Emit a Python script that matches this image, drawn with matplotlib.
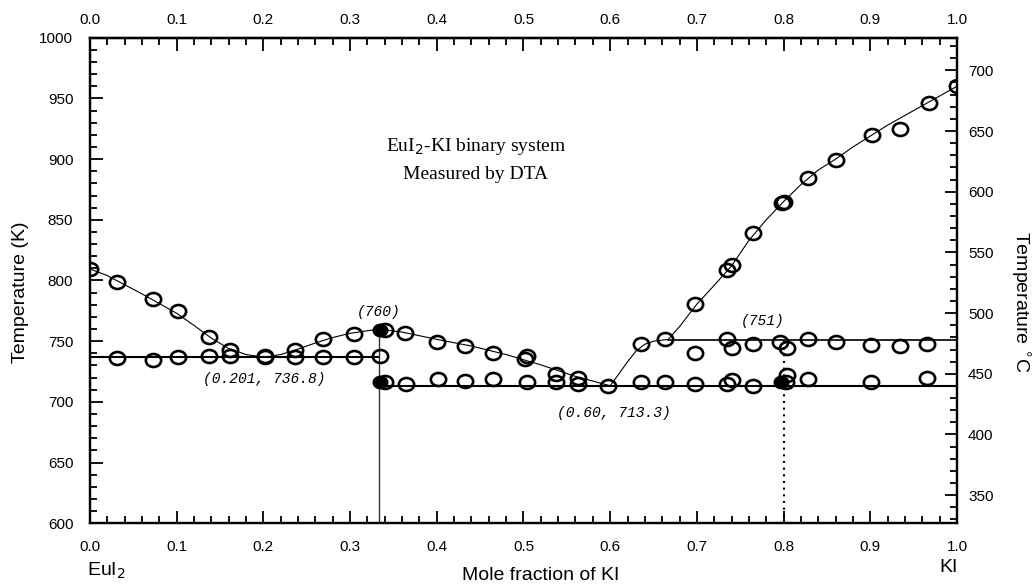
import numpy as np
import matplotlib
matplotlib.use("Agg")
import matplotlib.pyplot as plt
from matplotlib.path import Path
from matplotlib.transforms import Affine2D

plt.rcParams['font.family'] = ['Liberation Sans', 'DejaVu Sans']

# measured DTA points (mole fraction KI, temperature K)
liq_x = [0.0, 0.031, 0.073, 0.102, 0.137, 0.162, 0.202, 0.237, 0.269, 0.304,
         0.363, 0.400, 0.433, 0.465, 0.502, 0.504, 0.537, 0.563, 0.598,
         0.635, 0.663, 0.698, 0.735, 0.741, 0.765, 0.798, 0.800, 0.828,
         0.861, 0.902, 0.934, 0.968, 1.0]
liq_T = [809.5, 798.5, 784.5, 774.5, 753.5, 742.5, 737.5, 742.5, 752.0, 756.0,
         756.5, 749.0, 746.0, 740.5, 735.5, 737.5, 723.0, 719.5, 713.0,
         748.0, 751.5, 780.5, 809.0, 812.5, 839.5, 864.0, 865.0, 884.5,
         899.5, 919.5, 925.0, 946.0, 960.0]

eut1_x = [0.031, 0.073, 0.102, 0.137, 0.162, 0.202, 0.237, 0.269, 0.304, 0.335]
eut1_T = [736.0, 734.5, 737.0, 737.5, 737.5, 737.0, 737.0, 737.0, 737.0, 738.0]

eut2_x = [0.365, 0.402, 0.433, 0.465, 0.504, 0.537, 0.563, 0.635, 0.663,
          0.698, 0.735, 0.741, 0.765, 0.804, 0.828, 0.901, 0.966]
eut2_T = [715.0, 719.0, 717.0, 718.5, 716.5, 716.0, 715.0, 716.0, 716.0,
          714.5, 715.0, 718.0, 713.0, 722.5, 719.0, 716.0, 720.0]

per_x = [0.698, 0.735, 0.741, 0.765, 0.796, 0.804, 0.828, 0.861, 0.901, 0.934, 0.966]
per_T = [740.0, 751.5, 744.0, 748.0, 749.5, 744.0, 751.5, 749.5, 747.0, 746.0, 748.0]

# darker (overlapping) points
dark_x = [0.334, 0.334, 0.797]
dark_T = [759.0, 716.5, 716.5]

# fitted liquidus curves
c1_x = [0.0, 0.02, 0.04, 0.06, 0.08, 0.10, 0.12, 0.14, 0.16, 0.18, 0.201]
c1_T = [809.5, 804.0, 796.5, 789.0, 781.0, 773.0, 763.0, 752.5, 744.0, 739.0, 736.8]
c2_x = [0.201, 0.22, 0.24, 0.26, 0.28, 0.30, 0.3333]
c2_T = [736.8, 739.0, 743.5, 748.5, 753.0, 756.5, 760.0]
c3_x = [0.3333, 0.36, 0.40, 0.44, 0.48, 0.52, 0.56, 0.60]
c3_T = [760.0, 757.5, 751.5, 746.0, 739.0, 730.5, 721.0, 713.3]
c4_x = [0.60, 0.61, 0.62, 0.63, 0.64, 0.65, 0.667, 0.68, 0.70, 0.72, 0.74, 0.76,
        0.78, 0.80, 0.82, 0.84, 0.86, 0.88, 0.90, 0.92, 0.94, 0.96, 0.98, 1.0]
c4_T = [713.3, 723.0, 733.0, 742.0, 747.5, 750.0, 751.5, 762.0, 780.5, 796.0, 812.0, 833.0,
        850.0, 865.0, 879.0, 891.0, 900.0, 910.0, 919.0, 928.0, 936.0, 944.0, 952.0, 960.0]

# invariant lines
eutectic1 = (0.201, 736.8)
eutectic2 = (0.60, 713.3)
compound_x = 1 / 3
compound_T = 760.0
peritectic_x = 0.8
peritectic_T = 751.0

fig = plt.figure(figsize=(10.34, 5.84), dpi=100)
ax = fig.add_axes([0.087, 0.104, 0.8385, 0.8314])

ellipse = Path.unit_circle().transformed(Affine2D().scale(1.0, 0.85))
mk = dict(marker=ellipse, ms=11, mfc='none', mec='black', mew=1.9, ls='none', zorder=4)

# curves
for cx, cT in [(c1_x, c1_T), (c2_x, c2_T), (c3_x, c3_T), (c4_x, c4_T)]:
    ax.plot(cx, cT, color='black', lw=0.8, zorder=2)

ax.plot([0, compound_x], [eutectic1[1]] * 2, color='black', lw=1.5, zorder=2)
ax.plot([compound_x, 1.0], [eutectic2[1]] * 2, color='black', lw=1.5, zorder=2)
ax.plot([0.667, 1.0], [peritectic_T] * 2, color='black', lw=1.2, zorder=2)
ax.plot([compound_x, compound_x], [600, compound_T], color='#333333', lw=1.0, zorder=2)
ax.plot([peritectic_x, peritectic_x], [600, peritectic_T], color='black', lw=1.5,
        ls=(0, (1, 2.2)), zorder=2)

ax.plot(liq_x, liq_T, **mk)
ax.plot(eut1_x, eut1_T, **mk)
ax.plot(eut2_x, eut2_T, **mk)
ax.plot(per_x, per_T, **mk)
ax.plot(dark_x, dark_T, marker=ellipse, ms=10, mfc='black', mec='black', mew=1.5,
        ls='none', zorder=5)
ax.plot([x + 0.006 for x in dark_x], dark_T, **mk)

ax.set_xlim(0, 1)
ax.set_ylim(600, 1000)
ax.set_xticks(np.arange(0, 1.01, 0.1))
ax.set_xticks(np.arange(0, 1.001, 0.02), minor=True)
ax.set_yticks(np.arange(600, 1001, 50))
ax.set_yticks(np.arange(600, 1001, 10), minor=True)
ax.xaxis.set_major_formatter(plt.FormatStrFormatter('%.1f'))
ax.tick_params(which='both', direction='in', labelsize=11, width=1.3)
ax.tick_params(which='major', length=9)
ax.tick_params(which='minor', length=5)
ax.tick_params(axis='x', which='major', pad=12)
ax.tick_params(axis='y', which='major', pad=12)
for s in ax.spines.values():
    s.set_linewidth(1.6)

top = ax.secondary_xaxis('top')
top.set_xticks(np.arange(0, 1.01, 0.1))
top.set_xticks(np.arange(0, 1.001, 0.02), minor=True)
top.xaxis.set_major_formatter(plt.FormatStrFormatter('%.1f'))
top.tick_params(which='both', direction='in', labelsize=11, width=1.3)
top.tick_params(which='major', length=9, pad=8)
top.tick_params(which='minor', length=5)
top.spines['top'].set_linewidth(1.6)

ax2 = ax.twinx()
ax2.set_ylim(600 - 273.15, 1000 - 273.15)
ax2.set_yticks(np.arange(350, 701, 50))
ax2.set_yticks(np.arange(330, 721, 10), minor=True)
ax2.tick_params(which='both', direction='in', labelsize=11, width=1.3)
ax2.tick_params(which='major', length=9, pad=8)
ax2.tick_params(which='minor', length=5)
for s in ax2.spines.values():
    s.set_linewidth(1.6)

fig.text(0.020, 0.50, 'Temperature (K)', rotation=90, fontsize=14, ha='center', va='center')
fig.text(0.986, 0.483, 'Temperature $^{\\circ}$C', rotation=270, fontsize=14,
         ha='center', va='center')
fig.text(0.523, 0.015, 'Mole fraction of KI', fontsize=14, ha='center', va='center')
fig.text(0.103, 0.022, 'EuI$_2$', fontsize=14, ha='center', va='center')
fig.text(0.917, 0.028, 'KI', fontsize=14, ha='center', va='center')

serif = ['Liberation Serif', 'DejaVu Serif']
ax.text(0.445, 910, 'EuI$_2$-KI binary system', family=serif, fontsize=14,
        ha='center', va='center')
ax.text(0.445, 887, 'Measured by DTA', family=serif, fontsize=14,
        ha='center', va='center')

mono = dict(family=['Liberation Mono', 'DejaVu Sans Mono'], style='italic', fontsize=10.5,
            ha='center', va='center')
ax.text(0.333, 774, '(760)', **mono)
ax.text(eutectic1[0], 719, '(0.201, 736.8)', **mono)
ax.text(0.604, 691, '(0.60, 713.3)', **mono)
ax.text(0.776, 766.5, '(751)', **mono)

fig.savefig('out.png', dpi=100)
